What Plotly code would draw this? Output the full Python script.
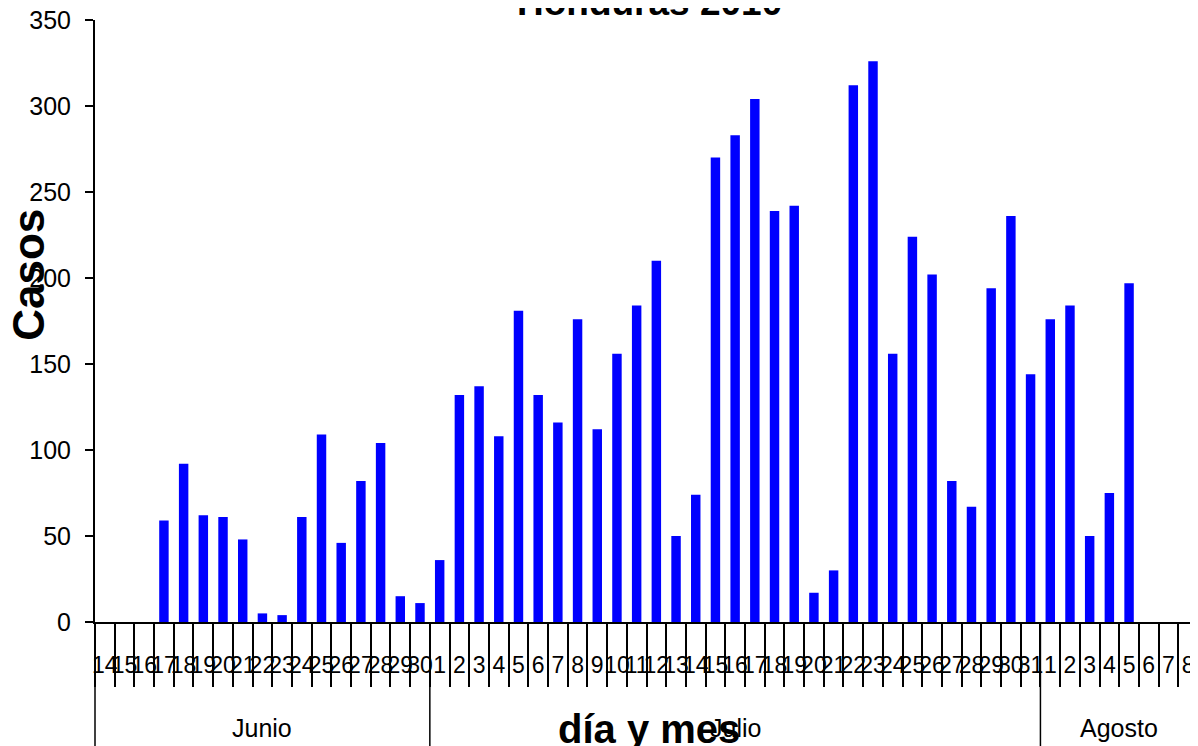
import plotly.graph_objects as go

# ---- data ----
meses = ["Junio", "Julio", "Agosto"]
dias_junio = [14, 15, 16, 17, 18, 19, 20, 21, 22, 23, 24, 25, 26, 27, 28, 29, 30]
dias_julio = [1, 2, 3, 4, 5, 6, 7, 8, 9, 10, 11, 12, 13, 14, 15, 16, 17, 18, 19, 20,
              21, 22, 23, 24, 25, 26, 27, 28, 29, 30, 31]
dias_agosto = [1, 2, 3, 4, 5, 6, 7, 8]

casos_junio = [0, 0, 0, 59, 92, 62, 61, 48, 5, 4, 61, 109, 46, 82, 104, 15, 11]
casos_julio = [36, 132, 137, 108, 181, 132, 116, 176, 112, 156, 184, 210, 50, 74, 270,
               283, 304, 239, 242, 17, 30, 312, 326, 156, 224, 202, 82, 67, 194, 236, 144]
casos_agosto = [176, 184, 50, 75, 197, 0, 0, 0]

titulo = "Honduras 2010"
titulo_x = "día y mes"
titulo_y = "Casos"
y_ticks = [0, 50, 100, 150, 200, 250, 300, 350]

# ---- build categories ----
grupos = [(meses[0], dias_junio, casos_junio),
          (meses[1], dias_julio, casos_julio),
          (meses[2], dias_agosto, casos_agosto)]
cats, ticktext, valores = [], [], []
for mes, dias, casos in grupos:
    for d, c in zip(dias, casos):
        cats.append(f"{d} {mes}")
        ticktext.append(str(d))
        valores.append(c)

FONT = "Liberation Sans, Arial, sans-serif"

fig = go.Figure()
fig.add_trace(go.Bar(x=cats, y=valores, marker=dict(color="#0000FF", line=dict(width=0)),
                     showlegend=False))

# month separators and labels
shapes = []
annotations = []
start = 0
for mes, dias, casos in grupos:
    n = len(dias)
    if start > 0:
        shapes.append(dict(type="line", xref="x", yref="paper", x0=start - 0.5, x1=start - 0.5,
                           y0=0, y1=-0.3, line=dict(color="black", width=1.5)))
    annotations.append(dict(text=mes, xref="x", yref="paper", x=start + (n - 1) / 2,
                            y=-0.1766, xanchor="center", yanchor="middle", showarrow=False,
                            font=dict(family=FONT, size=25, color="black")))
    start += n
# left edge extension of the frame
shapes.append(dict(type="line", xref="paper", yref="paper", x0=0, x1=0, y0=0, y1=-0.3,
                   line=dict(color="black", width=1.5)))

annotations.append(dict(text="<b>" + titulo_x + "</b>", xref="paper", yref="paper",
                        x=0.5027, y=-0.1777, xanchor="center", yanchor="middle",
                        showarrow=False, font=dict(family=FONT, size=40, color="black")))
annotations.append(dict(text="<b>" + titulo_y + "</b>", xref="paper", yref="paper",
                        x=-0.061, y=0.5764, xanchor="center", yanchor="middle",
                        textangle=-90, showarrow=False,
                        font=dict(family=FONT, size=44, color="black")))
annotations.append(dict(text="<b>" + titulo + "</b>", xref="paper", yref="paper",
                        x=0.5027, y=1.0296, xanchor="center", yanchor="middle",
                        showarrow=False, font=dict(family=FONT, size=37, color="black")))

# the page body adds an 8px offset; margins compensate so the plot area sits at
# x 95..1198, y 20..622 of the window
fig.update_layout(
    width=1198, height=746,
    margin=dict(l=87, r=8, t=12, b=132, autoexpand=False),
    plot_bgcolor="white", paper_bgcolor="white",
    bargap=0.52,
    font=dict(family=FONT, color="black"),
    shapes=shapes,
    annotations=annotations,
)
fig.update_xaxes(type="category", tickmode="array", tickvals=cats, ticktext=ticktext,
                 tickson="boundaries", ticks="outside", ticklen=63, tickwidth=1.5,
                 tickcolor="black", showline=True, linecolor="black", linewidth=2,
                 tickfont=dict(family=FONT, size=23, color="black"), tickangle=0,
                 ticklabelstandoff=21, range=[-0.5, len(cats) - 0.5], showgrid=False,
                 automargin=False, ticklabeloverflow="allow")
fig.update_yaxes(range=[0, 350], tickmode="array", tickvals=y_ticks, ticks="outside",
                 ticklen=8, tickwidth=1.5, tickcolor="black", showline=True,
                 linecolor="black", linewidth=2, showgrid=False, zeroline=False,
                 tickfont=dict(family=FONT, size=25, color="black"), ticklabelstandoff=9,
                 automargin=False, ticklabeloverflow="allow")

fig.write_html("out.html")
